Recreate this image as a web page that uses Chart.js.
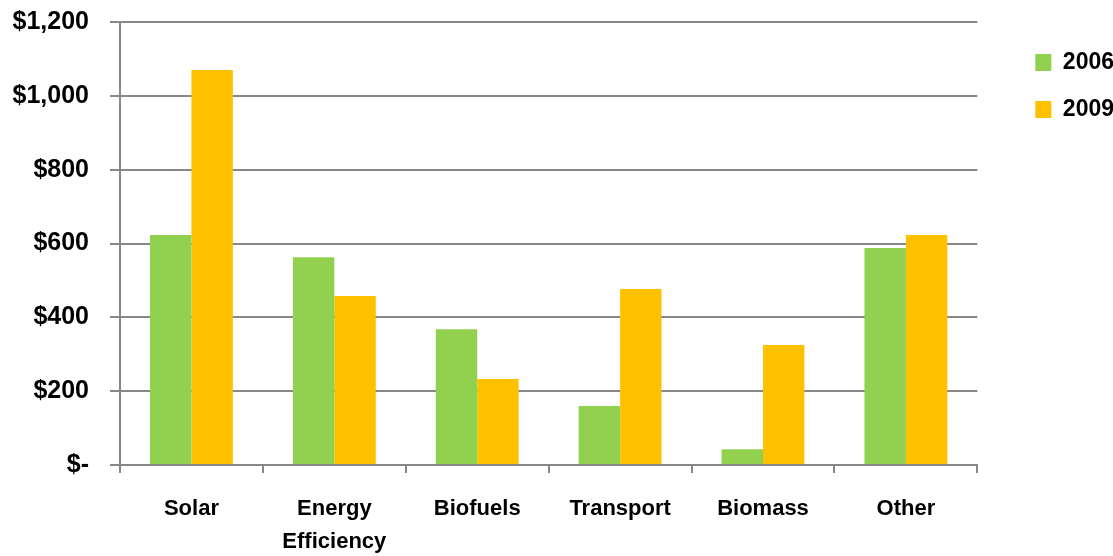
<!DOCTYPE html>
<html>
<head>
<meta charset="utf-8">
<script src="https://cdn.jsdelivr.net/npm/chart.js@4"></script>
<style>
  html, body { margin: 0; padding: 0; background: #fff; }
  #wrap { width: 1113px; height: 556px; }
</style>
</head>
<body>
<div id="wrap"><canvas id="inv"></canvas></div>
<script>
const categories = ['Solar', ['Energy', 'Efficiency'], 'Biofuels', 'Transport', 'Biomass', 'Other'];
const values2006 = [623, 563, 368, 160, 43, 588];
const values2009 = [1070, 458, 233, 477, 325, 623];
const yTicks = [0, 200, 400, 600, 800, 1000, 1200];

const FONT = '"Liberation Sans", Arial, sans-serif';
const gridGray = '#878787';

// push the legend away from the plot, like the original
const legendShift = {
    id: 'legendShift',
    afterLayout(chart) {
        const lg = chart.legend;
        const dx = chart.chartArea.right + 34 - lg.left;
        lg.left += dx;
        lg.right += dx;
        lg.top += 5;
        lg.bottom += 5;
    }
};

const ctx = document.getElementById('inv').getContext('2d');

const inv = new Chart(ctx, {
    type: 'bar',
    data: {
        labels: categories,
        datasets: [
            {
                label: '2006',
                data: values2006,
                backgroundColor: '#92D050',
                categoryPercentage: 0.58,
                barPercentage: 1.0
            },
            {
                label: '2009',
                data: values2009,
                backgroundColor: '#FFC000',
                categoryPercentage: 0.58,
                barPercentage: 1.0
            }
        ]
    },
    plugins: [legendShift],
    options: {
        responsive: true,
        maintainAspectRatio: false,
        animation: false,
        layout: {
            padding: { left: 12, top: 22, right: 23, bottom: 0 }
        },
        plugins: {
            tooltip: { enabled: false },
            legend: {
                position: 'right',
                align: 'start',
                labels: {
                    boxWidth: 16,
                    boxHeight: 17,
                    padding: 24,
                    color: '#000',
                    font: { family: FONT, size: 23, weight: 'bold' }
                }
            }
        },
        scales: {
            x: {
                afterFit: (s) => { s.height = 91; s.paddingLeft = 0; s.paddingRight = 0; },
                grid: {
                    drawOnChartArea: false,
                    drawTicks: true,
                    tickLength: 8,
                    color: gridGray,
                    lineWidth: 2
                },
                border: { color: gridGray, width: 2 },
                ticks: {
                    color: '#000',
                    padding: 19,
                    autoSkip: false,
                    maxRotation: 0,
                    font: { family: FONT, size: 22, weight: 'bold', lineHeight: 1.5 }
                }
            },
            y: {
                min: 0,
                max: 1200,
                afterBuildTicks: (axis) => { axis.ticks = yTicks.map(v => ({ value: v })); },
                afterFit: (s) => { s.width = 108; s.paddingTop = 0; s.paddingBottom = 0; },
                grid: {
                    color: gridGray,
                    lineWidth: 2,
                    tickLength: 10
                },
                border: { color: gridGray, width: 2 },
                ticks: {
                    color: '#000',
                    padding: 21,
                    font: { family: FONT, size: 25, weight: 'bold' },
                    callback: (v) => v === 0 ? '$-' : '$' + v.toLocaleString('en-US')
                }
            }
        }
    }
});
</script>
</body>
</html>
